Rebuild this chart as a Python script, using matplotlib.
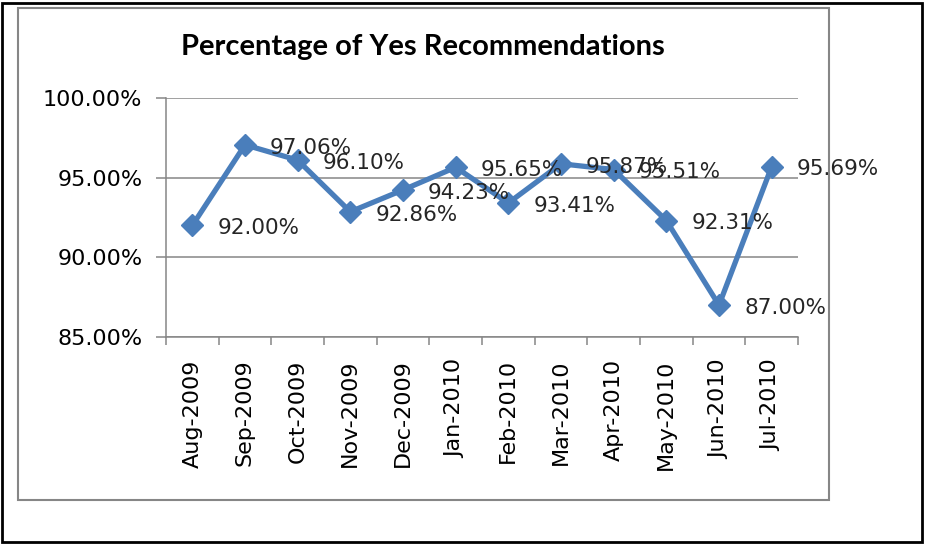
import matplotlib.pyplot as plt
from matplotlib.patches import Rectangle
from matplotlib.ticker import FuncFormatter, MultipleLocator

months = ["Aug-2009", "Sep-2009", "Oct-2009", "Nov-2009", "Dec-2009", "Jan-2010",
          "Feb-2010", "Mar-2010", "Apr-2010", "May-2010", "Jun-2010", "Jul-2010"]
yes_pct = [92.00, 97.06, 96.10, 92.86, 94.23, 95.65,
           93.41, 95.87, 95.51, 92.31, 87.00, 95.69]

BLUE = "#4a7ebb"
GRAY = "#868686"

fig = plt.figure(figsize=(9.25, 5.44), dpi=100)

# outer black border + chart frame
fig.patches.append(Rectangle((1.5 / 925, 2 / 544), 920 / 925, 539 / 544, transform=fig.transFigure,
                             fill=False, edgecolor="black", linewidth=2))
fig.patches.append(Rectangle((18 / 925, 1 - 500 / 544), 811 / 925, 492 / 544, transform=fig.transFigure,
                             fill=False, edgecolor=GRAY, linewidth=1.5))

ax = fig.add_axes([166 / 925, 1 - 337 / 544, 632 / 925, 239 / 544])
x = list(range(len(months)))
ax.plot(x, yes_pct, color=BLUE, linewidth=3.8, marker="D", markersize=11, zorder=3)

for xi, v in zip(x, yes_pct):
    ax.annotate(f"{v:.2f}%", (xi, v), xytext=(18, -2), textcoords="offset points",
                ha="left", va="center", fontsize=15.5, color="#262626", zorder=4)

ax.set_xlim(-0.5, len(months) - 0.5)
ax.set_ylim(85, 100)
ax.yaxis.set_major_locator(MultipleLocator(5))
ax.yaxis.set_major_formatter(FuncFormatter(lambda v, p: f"{v:.2f}%"))
ax.grid(axis="y", color=GRAY, linewidth=1.1)
ax.set_axisbelow(True)

ax.set_xticks(x)
ax.set_xticklabels(months, rotation=90)
ax.set_xticks([i - 0.5 for i in range(len(months) + 1)], minor=True)
ax.tick_params(axis="x", which="major", length=0, pad=16, labelsize=16)
ax.tick_params(axis="x", which="minor", length=6, color=GRAY, width=1.1)
ax.tick_params(axis="y", length=7, color=GRAY, width=1.1, pad=10, labelsize=16)

for s in ["top", "right"]:
    ax.spines[s].set_visible(False)
for s in ["left", "bottom"]:
    ax.spines[s].set_color(GRAY)
    ax.spines[s].set_linewidth(1.1)

fig.text(423 / 925, 1 - 47 / 544, "Percentage of Yes Recommendations", ha="center", va="center",
         fontsize=21, fontweight="bold", family=["Lato", "DejaVu Sans"])

fig.savefig("out.png", dpi=100)
